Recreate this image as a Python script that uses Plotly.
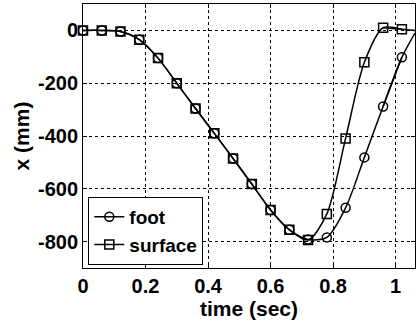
import plotly.graph_objects as go

time = [0, 0.06, 0.12, 0.18, 0.24, 0.30, 0.36, 0.42, 0.48, 0.54, 0.60, 0.66, 0.72, 0.78, 0.84, 0.90, 0.96, 1.02]
foot = [0, 0, -4, -35, -105, -200, -296, -390, -485, -582, -680, -755, -792, -784, -672, -481, -288, -102]
surface = [0, 0, -4, -35, -105, -200, -296, -390, -485, -582, -680, -755, -794, -695, -409, -121, 10, 4]
end_time = 1.062
foot_end = -10
surface_end = 0

x_ticks = [0, 0.2, 0.4, 0.6, 0.8, 1.0]
x_ticktext = ["0", "0.2", "0.4", "0.6", "0.8", "1"]
y_ticks = [0, -200, -400, -600, -800]
y_ticktext = ["0", "-200", "-400", "-600", "-800"]

FONT = "Liberation Sans, Arial, sans-serif"

fig = go.Figure()

def add_series(name, xs, ys, x_end, y_end, symbol):
    fig.add_trace(go.Scatter(
        x=xs[-2:] + [x_end], y=ys[-2:] + [y_end], mode="lines",
        line=dict(color="black", width=1.5, shape="spline", smoothing=0.8),
        showlegend=False, hoverinfo="skip", cliponaxis=True))
    fig.add_trace(go.Scatter(
        x=xs, y=ys, mode="lines+markers", name="<b>" + name + "</b>",
        line=dict(color="black", width=1.5, shape="spline", smoothing=0.8),
        marker=dict(symbol=symbol, size=9, color="black",
                    line=dict(color="black", width=1.5)),
        cliponaxis=False))

add_series("foot", time, foot, end_time, foot_end, "circle-open")
add_series("surface", time, surface, end_time, surface_end, "square-open")

fig.update_layout(
    width=418, height=324,
    margin=dict(l=83, r=3, t=4, b=56, autoexpand=False),
    paper_bgcolor="white", plot_bgcolor="white",
    font=dict(family=FONT, size=20, color="black"),
    legend=dict(x=0.016, y=0.012, xanchor="left", yanchor="bottom",
                bordercolor="black", borderwidth=1, bgcolor="white",
                font=dict(family=FONT, size=19, color="black"),
                itemwidth=30, tracegroupgap=0),
)
fig.update_xaxes(
    range=[0, 1.062], tickvals=x_ticks, ticktext=["<b>" + t + "</b>" for t in x_ticktext],
    showgrid=True, gridcolor="black", griddash="dot", gridwidth=1,
    showline=True, linecolor="black", linewidth=1, mirror="ticks",
    ticks="inside", ticklen=4, tickcolor="black", automargin=False,
    tickfont=dict(family=FONT, size=20),
    title=dict(text="<b>time (sec)</b>", font=dict(family=FONT, size=21), standoff=0),
    zeroline=False,
)
fig.update_yaxes(
    range=[-900, 100], tickvals=y_ticks, ticktext=["<b>" + t + "</b>" for t in y_ticktext],
    showgrid=True, gridcolor="black", griddash="dot", gridwidth=1,
    showline=True, linecolor="black", linewidth=1, mirror="ticks",
    ticks="inside", ticklen=4, tickcolor="black", automargin=False,
    tickfont=dict(family=FONT, size=20),
    title=dict(text="<b>x (mm)</b>", font=dict(family=FONT, size=21), standoff=2),
    zeroline=False,
)

fig.write_html("out.html", config={"displayModeBar": False},
               post_script="document.body.style.margin='0';")
